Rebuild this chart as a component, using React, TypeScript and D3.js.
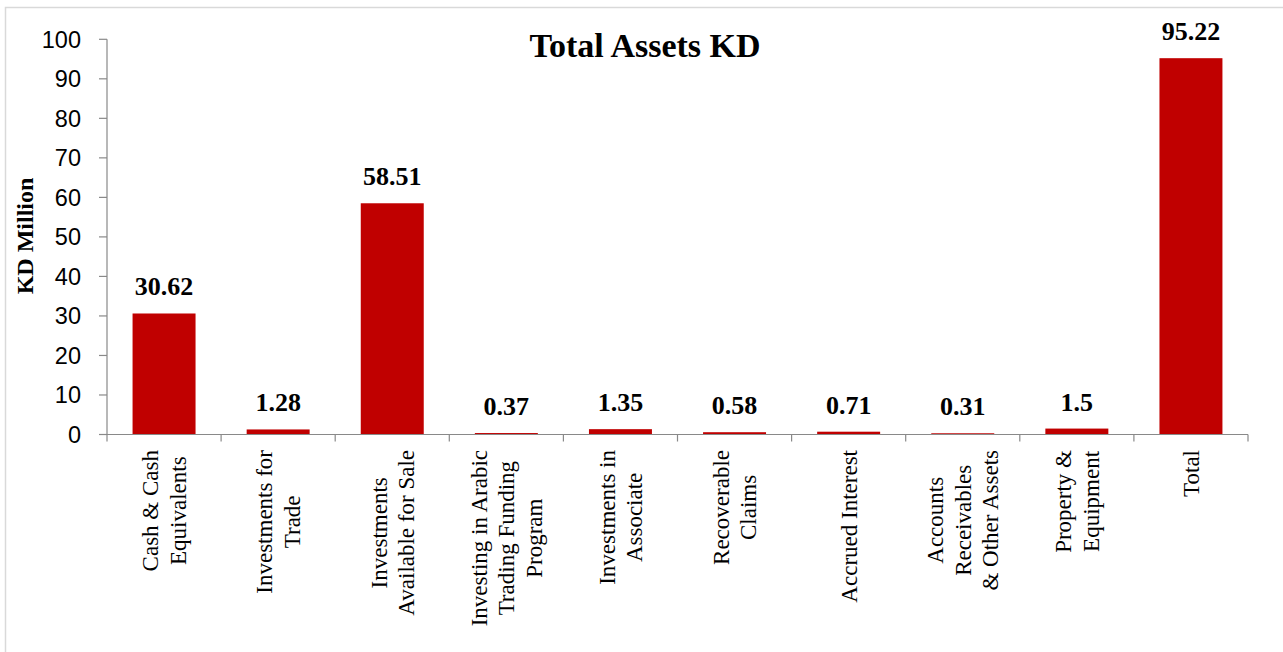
import React, { useEffect, useRef } from "react";
import * as d3 from "d3";

const categories: string[][] = [
  ["Cash & Cash", "Equivalents"],
  ["Investments for", "Trade"],
  ["Investments", "Available for Sale"],
  ["Investing in Arabic", "Trading Funding", "Program"],
  ["Investments in", "Associate"],
  ["Recoverable", "Claims"],
  ["Accrued Interest"],
  ["Accounts", "Receivables", "& Other Assets"],
  ["Property &", "Equipment"],
  ["Total"],
];
const values: number[] = [30.62, 1.28, 58.51, 0.37, 1.35, 0.58, 0.71, 0.31, 1.5, 95.22];
const valueLabels: string[] = ["30.62", "1.28", "58.51", "0.37", "1.35", "0.58", "0.71", "0.31", "1.5", "95.22"];
const yTicks: number[] = [0, 10, 20, 30, 40, 50, 60, 70, 80, 90, 100];
const title = "Total Assets KD";
const yTitle = "KD Million";

const W = 1283;
const H = 652;
const left = 107;
const right = 1248;
const top = 39.3;
const bottom = 434.5;
const axisColor = "#898989";
const barColor = "#C00000";
const serif = "'Times New Roman', 'Liberation Serif', Times, serif";
const sans = "'Liberation Sans', Arial, sans-serif";

export default function App() {
  const ref = useRef<SVGSVGElement>(null);

  useEffect(() => {
    const svg = d3.select(ref.current!);
    svg.selectAll("*").remove();

    const x = d3
      .scaleBand<number>()
      .domain(values.map((_, i) => i))
      .range([left, right])
      .paddingInner(0.448)
      .paddingOuter(0.224);
    const step = x.step();
    const y = d3.scaleLinear().domain([0, 100]).range([bottom, top]);

    // border
    svg
      .append("rect")
      .attr("x", 5.5)
      .attr("y", 7.5)
      .attr("width", 1400)
      .attr("height", 800)
      .attr("fill", "white")
      .attr("stroke", "#d9d9d9")
      .attr("stroke-width", 1.5);

    // bars
    svg
      .append("g")
      .selectAll("rect")
      .data(values)
      .join("rect")
      .attr("x", (_, i) => x(i)!)
      .attr("width", x.bandwidth())
      .attr("y", (d) => y(d))
      .attr("height", (d) => y(0) - y(d))
      .attr("fill", barColor);

    // y axis
    const ya = svg.append("g").attr("stroke", axisColor).attr("stroke-width", 1.2);
    ya.append("line")
      .attr("x1", left)
      .attr("x2", left)
      .attr("y1", y(100))
      .attr("y2", y(0));
    ya.selectAll("line.t")
      .data(yTicks)
      .join("line")
      .attr("class", "t")
      .attr("x1", left - 8)
      .attr("x2", left)
      .attr("y1", (d) => y(d))
      .attr("y2", (d) => y(d));

    svg
      .append("g")
      .selectAll("text")
      .data(yTicks)
      .join("text")
      .attr("x", 81)
      .attr("y", (d) => y(d) + 8.5)
      .attr("text-anchor", "end")
      .attr("font-family", sans)
      .attr("font-size", 23.5)
      .attr("fill", "#000")
      .text((d) => String(d));

    // x axis
    const xa = svg.append("g").attr("stroke", axisColor).attr("stroke-width", 1.2);
    xa.append("line")
      .attr("x1", left)
      .attr("x2", right)
      .attr("y1", y(0))
      .attr("y2", y(0));
    xa.selectAll("line.t")
      .data(d3.range(values.length + 1))
      .join("line")
      .attr("class", "t")
      .attr("x1", (i) => left + i * step)
      .attr("x2", (i) => left + i * step)
      .attr("y1", y(0))
      .attr("y2", y(0) + 7);

    // value labels
    svg
      .append("g")
      .selectAll("text")
      .data(values)
      .join("text")
      .attr("x", (_, i) => x(i)! + x.bandwidth() / 2)
      .attr("y", (d) => y(d) - 18)
      .attr("text-anchor", "middle")
      .attr("font-family", serif)
      .attr("font-weight", "bold")
      .attr("font-size", 26)
      .attr("fill", "#000")
      .text((_, i) => valueLabels[i]);

    // category labels
    const lh = 27.5;
    const cg = svg.append("g");
    categories.forEach((lines, i) => {
      const cx = x(i)! + x.bandwidth() / 2;
      const g = cg.append("g");
      const texts = lines.map((ln, j) => {
        const lc = cx + (j - (lines.length - 1) / 2) * lh;
        return g
          .append("text")
          .attr("font-family", serif)
          .attr("font-size", 23)
          .attr("fill", "#000")
          .attr("text-anchor", "middle")
          .attr("data-x", lc + 8)
          .text(ln);
      });
      const maxLen = d3.max(texts, (t) => (t.node() as SVGTextElement).getComputedTextLength()) || 0;
      const cy = 450 + maxLen / 2;
      texts.forEach((t) => {
        const bx = +t.attr("data-x");
        t.attr("transform", `translate(${bx},${cy}) rotate(-90)`);
      });
    });

    // title
    svg
      .append("text")
      .attr("x", 645)
      .attr("y", 57)
      .attr("text-anchor", "middle")
      .attr("font-family", serif)
      .attr("font-weight", "bold")
      .attr("font-size", 34)
      .attr("fill", "#000")
      .text(title);

    // y title
    svg
      .append("text")
      .attr("transform", `translate(33,236) rotate(-90)`)
      .attr("text-anchor", "middle")
      .attr("font-family", serif)
      .attr("font-weight", "bold")
      .attr("font-size", 24)
      .attr("fill", "#000")
      .text(yTitle);
  }, []);

  return (
    <svg
      ref={ref}
      width={W}
      height={H}
      style={{ position: "absolute", left: 0, top: 0, display: "block" }}
    />
  );
}
